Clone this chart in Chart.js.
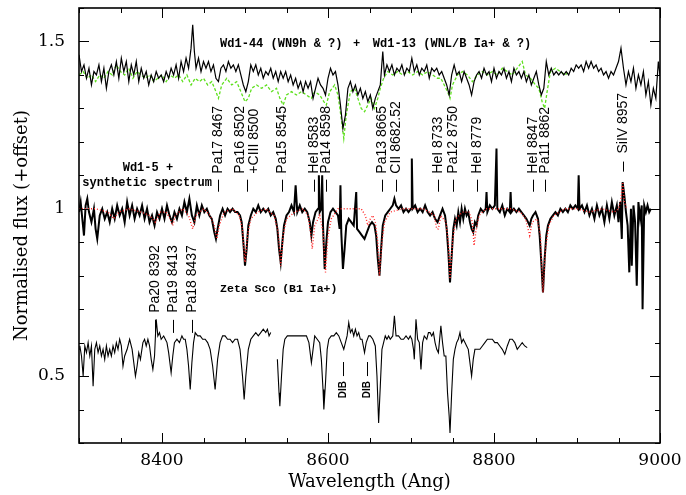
<!DOCTYPE html>
<html lang="en">
<head>
  <meta charset="UTF-8">
  <title>Wd1 spectra</title>
  <script src="https://cdn.jsdelivr.net/npm/chart.js"></script>
  <style>
    body { margin: 0; background: #fff; }
  </style>
</head>
<body>
  <canvas id="spec" width="686" height="495"></canvas>

  <script>
    // Wd1-44 (WN9h) - black, top
    const wd44Wave = [8300,8303,8306,8309,8312,8315,8318,8321,8324,8327,8330,8333,8336,8339,8342,8345,8348,8351,8354,8357,8360,8363,8366,8369,8372,8375,8378,8381,8384,8387,8390,8393,8396,8399,8402,8405,8408,8411,8414,8417,8420,8423,8426,8429,8432,8435,8437,8439,8441,8444,8447,8450,8453,8456,8459,8462,8465,8468,8471,8474,8477,8480,8483,8486,8489,8492,8495,8498,8501,8504,8507,8510,8513,8516,8519,8522,8525,8528,8531,8534,8537,8540,8543,8546,8549,8552,8555,8558,8561,8564,8567,8570,8573,8576,8579,8582,8585,8588,8591,8594,8597,8600,8603,8606,8609,8612,8615,8618,8621,8624,8627,8630,8633,8636,8639,8642,8645,8648,8651,8654,8657,8660,8663,8666,8668,8671,8674,8677,8680,8683,8686,8689,8692,8695,8698,8701,8704,8707,8710,8713,8716,8719,8722,8725,8728,8731,8734,8737,8740,8743,8746,8749,8752,8755,8758,8761,8764,8767,8770,8773,8776,8779,8782,8785,8788,8791,8794,8797,8800,8803,8806,8809,8812,8815,8818,8821,8824,8827,8830,8833,8836,8839,8842,8845,8848,8851,8854,8857,8860,8863,8866,8869,8872,8875,8878,8881,8884,8887,8890,8893,8896,8899,8902,8905,8908,8911,8914,8917,8920,8923,8926,8929,8932,8935,8938,8941,8944,8947,8950,8953,8956,8959,8962,8965,8968,8971,8974,8977,8980,8983,8986,8989,8992,8995,8998,9000];
    const wd44Flux = [1.46,1.41,1.43,1.39,1.42,1.37,1.41,1.40,1.43,1.38,1.42,1.36,1.41,1.43,1.40,1.44,1.39,1.45,1.41,1.44,1.38,1.43,1.40,1.44,1.38,1.42,1.39,1.41,1.37,1.40,1.38,1.41,1.39,1.40,1.38,1.41,1.39,1.42,1.40,1.43,1.39,1.44,1.41,1.45,1.42,1.48,1.55,1.47,1.42,1.45,1.41,1.44,1.42,1.44,1.41,1.43,1.39,1.38,1.42,1.43,1.41,1.44,1.42,1.43,1.41,1.43,1.40,1.37,1.35,1.38,1.43,1.41,1.43,1.40,1.42,1.39,1.41,1.40,1.42,1.39,1.41,1.38,1.41,1.39,1.41,1.38,1.40,1.37,1.39,1.36,1.38,1.35,1.38,1.36,1.38,1.33,1.36,1.39,1.37,1.36,1.34,1.39,1.42,1.40,1.41,1.37,1.31,1.24,1.28,1.36,1.38,1.35,1.37,1.34,1.36,1.33,1.35,1.32,1.34,1.30,1.33,1.35,1.37,1.47,1.40,1.43,1.41,1.43,1.40,1.42,1.41,1.43,1.40,1.42,1.41,1.45,1.41,1.43,1.40,1.42,1.41,1.43,1.39,1.42,1.41,1.42,1.40,1.41,1.39,1.37,1.34,1.40,1.43,1.40,1.41,1.38,1.41,1.39,1.37,1.34,1.38,1.40,1.41,1.39,1.42,1.40,1.41,1.38,1.42,1.39,1.41,1.40,1.42,1.39,1.41,1.38,1.42,1.40,1.41,1.39,1.41,1.38,1.40,1.37,1.39,1.41,1.37,1.34,1.36,1.44,1.40,1.42,1.40,1.41,1.40,1.41,1.40,1.41,1.40,1.42,1.41,1.43,1.42,1.43,1.41,1.44,1.42,1.44,1.42,1.43,1.41,1.42,1.40,1.41,1.39,1.41,1.40,1.42,1.44,1.48,1.42,1.37,1.41,1.38,1.42,1.36,1.40,1.37,1.41,1.34,1.38,1.31,1.36,1.33,1.44,1.40];

    // Wd1-13 (WNL/B Ia+) - green, top
    const wd13Wave = [8300,8305,8310,8315,8320,8325,8330,8335,8340,8345,8350,8355,8360,8365,8370,8375,8380,8385,8390,8395,8400,8405,8410,8415,8420,8425,8430,8435,8440,8445,8450,8455,8460,8465,8468,8472,8478,8484,8490,8495,8500,8504,8508,8514,8520,8526,8532,8538,8542,8546,8550,8556,8562,8568,8574,8580,8584,8590,8595,8598,8602,8608,8612,8616,8619,8622,8627,8632,8636,8640,8644,8648,8652,8656,8660,8663,8667,8672,8678,8684,8690,8696,8702,8708,8714,8720,8726,8732,8736,8740,8744,8747,8750,8756,8762,8768,8774,8780,8786,8792,8798,8804,8810,8816,8822,8828,8834,8838,8844,8850,8854,8858,8861,8864,8868,8874,8880,8886,8890];
    const wd13Flux = [1.40,1.41,1.39,1.40,1.38,1.40,1.39,1.41,1.40,1.43,1.41,1.40,1.42,1.39,1.41,1.40,1.39,1.40,1.38,1.39,1.40,1.38,1.40,1.39,1.40,1.38,1.40,1.37,1.39,1.38,1.39,1.37,1.38,1.35,1.33,1.37,1.39,1.37,1.38,1.35,1.32,1.33,1.36,1.37,1.36,1.37,1.35,1.36,1.33,1.31,1.34,1.35,1.34,1.35,1.34,1.33,1.35,1.34,1.32,1.31,1.35,1.37,1.34,1.27,1.21,1.28,1.35,1.36,1.33,1.30,1.29,1.31,1.33,1.30,1.33,1.36,1.39,1.41,1.40,1.41,1.40,1.41,1.40,1.41,1.40,1.41,1.40,1.39,1.39,1.37,1.35,1.33,1.37,1.40,1.41,1.40,1.38,1.40,1.41,1.40,1.41,1.40,1.42,1.41,1.40,1.42,1.44,1.40,1.39,1.37,1.36,1.32,1.30,1.35,1.41,1.42,1.41,1.40,1.41];

    // Wd1-5 - black, middle
    const wd5Wave = [8300,8302,8304,8306,8308,8310,8312,8315,8318,8320,8322,8325,8328,8331,8334,8337,8340,8343,8346,8349,8352,8355,8358,8361,8364,8367,8370,8373,8376,8379,8382,8385,8388,8391,8394,8397,8400,8403,8406,8409,8412,8415,8418,8421,8424,8427,8430,8433,8436,8439,8442,8445,8448,8451,8454,8457,8460,8463,8465,8467,8470,8473,8476,8479,8482,8485,8488,8491,8494,8496,8498,8500,8502,8504,8507,8510,8513,8516,8519,8522,8525,8528,8531,8534,8537,8539,8541,8543,8545,8547,8550,8553,8556,8559,8561,8563,8566,8569,8572,8575,8578,8580,8582,8585,8588,8589,8590,8592,8593,8594,8596,8598,8600,8603,8606,8609,8612,8614,8615,8616,8618,8620,8622,8625,8628,8631,8634,8635,8638,8641,8644,8647,8650,8653,8656,8658,8660,8662,8664,8666,8669,8672,8675,8678,8680,8682,8685,8688,8691,8694,8697,8700,8701,8702,8705,8708,8711,8714,8717,8720,8723,8726,8729,8732,8735,8738,8741,8743,8745,8747,8749,8751,8753,8755,8757,8759,8761,8763,8765,8767,8769,8771,8773,8775,8777,8779,8781,8784,8787,8790,8791,8792,8795,8798,8801,8803,8804,8807,8810,8813,8816,8819,8820,8821,8824,8827,8830,8833,8836,8839,8841,8843,8845,8847,8850,8853,8855,8857,8859,8861,8863,8865,8868,8871,8874,8877,8880,8883,8886,8889,8892,8895,8898,8901,8902,8903,8906,8909,8912,8915,8918,8921,8924,8927,8930,8933,8936,8939,8942,8945,8948,8950,8952,8954,8955,8957,8959,8961,8963,8965,8966,8968,8970,8972,8974,8976,8978,8979,8981,8983,8985,8987,8989];
    const wd5Flux = [0.99,1.02,0.97,0.92,1.01,1.03,0.99,0.96,1.00,0.94,0.91,0.98,1.00,0.97,0.99,0.96,1.00,0.97,1.01,0.98,1.00,0.96,1.02,0.98,1.01,0.97,1.00,0.98,1.01,0.97,1.00,0.96,0.98,0.95,0.99,0.97,1.00,0.97,1.01,0.98,0.96,0.99,0.97,1.00,0.98,1.02,0.99,1.03,0.98,0.96,1.01,0.98,1.01,0.99,1.00,0.98,0.97,0.93,0.91,0.94,0.98,1.00,0.98,1.00,0.99,1.00,0.99,0.99,0.98,0.96,0.90,0.83,0.88,0.95,0.98,1.00,0.99,1.01,0.99,1.00,0.99,1.00,0.98,0.99,0.97,0.94,0.88,0.84,0.90,0.95,0.98,0.99,1.01,0.99,1.07,0.99,1.01,0.99,1.00,0.99,0.96,0.92,0.96,0.99,1.00,1.10,0.99,1.00,1.10,0.95,0.82,0.90,0.96,0.99,1.00,0.99,0.98,0.94,1.07,0.93,0.82,0.88,0.95,0.97,0.96,0.95,1.05,0.94,0.93,0.92,0.91,0.93,0.95,0.96,0.95,0.92,0.85,0.80,0.88,0.95,0.98,0.99,1.00,1.01,1.03,1.01,1.00,1.01,0.99,1.00,0.99,1.00,1.15,1.00,1.01,0.99,1.00,0.99,1.01,0.99,0.98,0.99,0.97,0.96,0.98,1.00,0.98,0.94,0.87,0.78,0.86,0.94,0.97,0.95,0.99,0.96,1.00,0.97,1.00,0.98,0.99,0.96,0.94,0.93,0.96,0.95,0.98,1.00,0.99,1.00,1.05,0.99,1.01,1.00,1.01,1.18,1.00,0.99,1.01,0.98,1.00,0.99,1.05,0.99,1.00,0.99,1.00,0.99,0.98,0.97,0.96,0.95,0.97,0.98,0.99,0.97,0.92,0.84,0.75,0.85,0.92,0.95,0.97,0.98,0.99,0.98,1.00,0.99,1.00,0.99,1.01,1.00,1.01,1.00,1.10,1.00,1.01,0.99,1.01,0.98,1.00,0.97,1.01,0.98,1.00,0.96,1.01,0.97,1.02,0.98,1.01,0.96,1.02,0.91,1.08,1.04,0.99,0.95,0.81,1.00,0.83,1.01,0.96,0.77,1.02,0.97,1.01,0.70,1.01,0.99,1.01,0.99,1.00];

    // synthetic spectrum - red dotted, middle
    const synthWave = [8300,8320,8335,8342,8348,8360,8375,8385,8392,8398,8405,8410,8413,8416,8425,8432,8437,8441,8450,8458,8463,8466,8469,8475,8485,8493,8497,8500,8503,8507,8515,8525,8535,8540,8543,8546,8550,8560,8570,8576,8579,8581,8584,8590,8594,8597,8600,8604,8612,8625,8640,8645,8648,8651,8654,8657,8660,8662,8665,8668,8675,8690,8705,8715,8722,8728,8731,8733,8736,8742,8745,8747,8750,8754,8762,8770,8774,8776,8778,8782,8790,8805,8820,8832,8838,8841,8843,8846,8852,8856,8859,8862,8866,8872,8885,8900,8915,8930,8945,8950,8953,8955,8957,8960];
    const synthFlux = [1.00,1.00,0.99,0.97,0.99,1.00,0.99,0.98,0.96,0.99,0.99,0.97,0.95,0.98,1.00,0.98,0.94,0.98,1.00,0.98,0.95,0.91,0.95,0.99,1.00,0.98,0.94,0.84,0.92,0.97,0.99,1.00,0.98,0.93,0.83,0.92,0.97,0.99,1.00,0.98,0.93,0.88,0.95,0.98,0.93,0.81,0.92,0.97,1.00,1.00,1.00,0.98,0.95,0.97,0.98,0.96,0.90,0.80,0.90,0.96,0.99,1.00,1.00,1.00,0.99,0.98,0.94,0.94,0.98,0.96,0.90,0.79,0.90,0.97,0.99,0.99,0.96,0.89,0.93,0.98,1.00,1.00,1.00,0.99,0.97,0.94,0.92,0.96,0.97,0.92,0.75,0.88,0.95,0.98,1.00,1.00,0.99,1.00,0.99,1.00,1.03,1.08,1.02,1.00];

    // Zeta Sco (B1 Ia+) - bottom, two pieces with a gap
    const zetaWaveA = [8300,8301,8303,8305,8307,8309,8311,8313,8315,8317,8319,8321,8323,8325,8327,8329,8331,8333,8335,8337,8339,8341,8343,8345,8347,8349,8351,8353,8355,8358,8361,8364,8366,8368,8370,8372,8374,8377,8379,8381,8383,8385,8387,8389,8391,8393,8395,8397,8399,8402,8404,8406,8408,8411,8413,8415,8418,8421,8424,8426,8428,8430,8432,8434,8436,8438,8440,8443,8446,8449,8452,8455,8458,8461,8464,8467,8470,8473,8476,8479,8482,8485,8488,8491,8494,8497,8499,8501,8504,8507,8510,8513,8516,8519,8522,8525,8527,8529,8531];
    const zetaFluxA = [0.58,0.59,0.56,0.50,0.59,0.57,0.60,0.56,0.59,0.47,0.58,0.60,0.57,0.59,0.56,0.58,0.55,0.59,0.56,0.58,0.56,0.59,0.57,0.60,0.58,0.61,0.59,0.53,0.56,0.58,0.61,0.58,0.54,0.50,0.53,0.57,0.55,0.60,0.61,0.59,0.61,0.59,0.55,0.52,0.56,0.67,0.62,0.63,0.61,0.62,0.61,0.60,0.57,0.51,0.56,0.60,0.61,0.60,0.62,0.61,0.61,0.58,0.53,0.46,0.54,0.60,0.63,0.62,0.62,0.61,0.61,0.60,0.58,0.53,0.46,0.55,0.60,0.62,0.62,0.61,0.61,0.60,0.61,0.61,0.58,0.50,0.43,0.50,0.58,0.61,0.62,0.63,0.62,0.63,0.64,0.63,0.64,0.62,0.63];
    const zetaWaveB = [8539,8541,8542,8544,8546,8548,8551,8555,8560,8565,8570,8574,8577,8580,8582,8584,8587,8590,8592,8594,8595,8597,8599,8601,8604,8607,8610,8613,8616,8619,8621,8623,8625,8627,8629,8631,8633,8635,8637,8639,8641,8644,8646,8649,8651,8654,8657,8659,8661,8663,8665,8667,8669,8671,8673,8675,8678,8680,8682,8685,8688,8691,8694,8697,8699,8701,8703,8704,8706,8708,8710,8712,8714,8716,8719,8721,8723,8725,8727,8729,8731,8733,8736,8738,8740,8742,8744,8746,8747,8749,8751,8753,8755,8757,8759,8761,8763,8765,8767,8769,8771,8773,8775,8777,8780,8783,8786,8789,8792,8795,8798,8801,8804,8807,8810,8813,8816,8819,8822,8825,8828,8831,8834,8837,8840];
    const zetaFluxB = [0.55,0.45,0.41,0.50,0.58,0.61,0.62,0.62,0.62,0.62,0.62,0.62,0.60,0.54,0.58,0.62,0.61,0.60,0.55,0.46,0.40,0.48,0.58,0.61,0.62,0.62,0.63,0.62,0.60,0.58,0.60,0.62,0.66,0.63,0.64,0.62,0.64,0.62,0.63,0.61,0.61,0.57,0.60,0.62,0.62,0.61,0.59,0.50,0.36,0.47,0.58,0.60,0.62,0.61,0.62,0.61,0.62,0.68,0.62,0.62,0.61,0.61,0.62,0.61,0.62,0.61,0.58,0.55,0.67,0.61,0.60,0.52,0.60,0.62,0.61,0.63,0.63,0.62,0.63,0.60,0.58,0.57,0.65,0.60,0.56,0.56,0.45,0.38,0.33,0.45,0.55,0.58,0.60,0.61,0.63,0.60,0.61,0.60,0.59,0.58,0.54,0.50,0.55,0.58,0.58,0.58,0.59,0.60,0.61,0.61,0.61,0.60,0.60,0.59,0.58,0.565,0.59,0.61,0.61,0.60,0.58,0.59,0.60,0.59,0.585];

    // line identifications: [text lines, rest wavelength]
    const upperIds = [
      [['Pa17 8467'], 8467],
      [['Pa16 8502', '+CIII 8500'], 8502],
      [['Pa15 8545'], 8545],
      [['HeI 8583'], 8583],
      [['Pa14 8598'], 8597],
      [['Pa13 8665'], 8665],
      [['CII 8682.52'], 8682.5],
      [['HeI 8733'], 8733],
      [['Pa12 8750'], 8750],
      [['HeI 8779'], 8779],
      [['HeI 8847'], 8847],
      [['Pa11 8862'], 8862]
    ];
    const siivId = ['SiIV 8957', 8956];
    const lowerIds = [['Pa20 8392', 8392], ['Pa19 8413', 8413], ['Pa18 8437', 8436]];
    const dibIds = [['DIB', 8618], ['DIB', 8647]];

    function pts(wave, flux) {
      return wave.map((w, i) => ({ x: w, y: flux[i] }));
    }

    // box with inward ticks, like the original plot
    const frameTicks = {
      id: 'frameTicks',
      afterDatasetsDraw(chart) {
        const { ctx, chartArea: a, scales: { x, y } } = chart;
        ctx.save();
        ctx.strokeStyle = '#000';
        ctx.lineWidth = 1;
        ctx.beginPath();
        for (let v = 8300; v <= 9000; v += 50) {
          const px = Math.round(x.getPixelForValue(v)) + 0.5;
          const len = v % 200 === 0 ? 10 : 5;
          ctx.moveTo(px, a.bottom); ctx.lineTo(px, a.bottom - len);
          ctx.moveTo(px, a.top); ctx.lineTo(px, a.top + len);
        }
        for (let i = 3; i <= 16; i++) {
          const py = Math.round(y.getPixelForValue(i / 10)) + 0.5;
          const len = i % 5 === 0 ? 10 : 5;
          ctx.moveTo(a.left, py); ctx.lineTo(a.left + len, py);
          ctx.moveTo(a.right, py); ctx.lineTo(a.right - len, py);
        }
        ctx.stroke();
        ctx.lineWidth = 1.6;
        ctx.strokeRect(a.left, a.top, a.right - a.left, a.bottom - a.top);
        ctx.restore();
      }
    };

    function vtext(ctx, s, px, py) {
      ctx.save();
      ctx.translate(px, py);
      ctx.rotate(-Math.PI / 2);
      ctx.fillText(s, 0, 0);
      ctx.restore();
    }

    const labels = {
      id: 'labels',
      afterDatasetsDraw(chart) {
        const { ctx, scales: { x, y } } = chart;
        ctx.save();
        ctx.fillStyle = '#000';
        ctx.strokeStyle = '#000';
        ctx.lineWidth = 1;
        ctx.textAlign = 'left';
        ctx.textBaseline = 'middle';

        ctx.font = 'bold 12px "Liberation Mono"';
        ctx.fillText('Wd1-44 (WN9h & ?)', x.getPixelForValue(8470), y.getPixelForValue(1.491));
        ctx.fillText('+', x.getPixelForValue(8630), y.getPixelForValue(1.491));
        ctx.fillText('Wd1-13 (WNL/B Ia+ & ?)', x.getPixelForValue(8654), y.getPixelForValue(1.491));
        ctx.textAlign = 'center';
        ctx.fillText('Wd1-5 +', x.getPixelForValue(8383), y.getPixelForValue(1.123));
        ctx.fillText('synthetic spectrum', x.getPixelForValue(8382), y.getPixelForValue(1.078));
        ctx.textAlign = 'left';
        ctx.font = 'bold 11.5px "Liberation Mono"';
        ctx.fillText('Zeta Sco (B1 Ia+)', x.getPixelForValue(8470), y.getPixelForValue(0.760));

        ctx.font = '14px "Liberation Sans"';
        const tickTop = y.getPixelForValue(1.087), tickBot = y.getPixelForValue(1.051);
        const textBase = y.getPixelForValue(1.105);
        upperIds.forEach(([lines, w]) => {
          const px = Math.round(x.getPixelForValue(w)) + 0.5;
          ctx.beginPath(); ctx.moveTo(px, tickTop); ctx.lineTo(px, tickBot); ctx.stroke();
          lines.forEach((s, k) => {
            const off = (k - (lines.length - 1) / 2) * 14;
            vtext(ctx, s, px + off, textBase);
          });
        });

        const sp = Math.round(x.getPixelForValue(siivId[1])) + 0.5;
        ctx.beginPath();
        ctx.moveTo(sp, y.getPixelForValue(1.141)); ctx.lineTo(sp, y.getPixelForValue(1.111));
        ctx.stroke();
        vtext(ctx, siivId[0], sp, y.getPixelForValue(1.165));

        lowerIds.forEach(([s, w]) => {
          const px = Math.round(x.getPixelForValue(w)) + 0.5;
          ctx.beginPath();
          ctx.moveTo(px, y.getPixelForValue(0.668)); ctx.lineTo(px, y.getPixelForValue(0.629));
          ctx.stroke();
          vtext(ctx, s, px, y.getPixelForValue(0.689));
        });

        ctx.font = 'bold 10px "Liberation Sans"';
        dibIds.forEach(([s, w]) => {
          const px = Math.round(x.getPixelForValue(w)) + 0.5;
          ctx.beginPath();
          ctx.moveTo(px, y.getPixelForValue(0.542)); ctx.lineTo(px, y.getPixelForValue(0.500));
          ctx.stroke();
          vtext(ctx, s, px, y.getPixelForValue(0.434));
        });
        ctx.restore();
      }
    };

    const ctx = document.getElementById('spec').getContext('2d');
    new Chart(ctx, {
      type: 'line',
      data: {
        datasets: [
          { data: pts(wd44Wave, wd44Flux), borderColor: '#000', borderWidth: 1.2 },
          { data: pts(wd13Wave, wd13Flux), borderColor: '#5ee01e', borderWidth: 1.3, borderDash: [3, 2] },
          { data: pts(synthWave, synthFlux), borderColor: '#ff2a2a', borderWidth: 1.4, borderDash: [1, 2] },
          { data: pts(wd5Wave, wd5Flux), borderColor: '#000', borderWidth: 2 },
          { data: pts(zetaWaveA, zetaFluxA), borderColor: '#000', borderWidth: 1.1 },
          { data: pts(zetaWaveB, zetaFluxB), borderColor: '#000', borderWidth: 1.1 }
        ]
      },
      options: {
        responsive: false,
        animation: false,
        events: [],
        elements: { point: { radius: 0 }, line: { tension: 0 } },
        layout: { padding: { left: 0, right: 26, top: 8, bottom: 0 } },
        plugins: { legend: { display: false }, tooltip: { enabled: false } },
        scales: {
          x: {
            type: 'linear', min: 8300, max: 9000,
            grid: { display: false, drawTicks: false },
            border: { display: false },
            ticks: {
              stepSize: 200, includeBounds: false, padding: 7, color: '#000',
              font: { family: 'DejaVu Serif', size: 17 },
              callback: v => String(v), maxRotation: 0
            },
            title: {
              display: true, text: 'Wavelength (Ang)', color: '#000',
              font: { family: 'DejaVu Serif', size: 18 }, padding: { top: 0, bottom: 2 }
            },
            afterFit: s => { s.height = 52; s.paddingLeft = 0; s.paddingRight = 0; }
          },
          y: {
            min: 0.3, max: 1.6,
            grid: { display: false, drawTicks: false },
            border: { display: false },
            ticks: {
              stepSize: 0.5, includeBounds: false, padding: 14, color: '#000',
              font: { family: 'DejaVu Serif', size: 17 },
              callback: v => String(+v.toFixed(1))
            },
            title: {
              display: true, text: 'Normalised flux (+offset)', color: '#000',
              font: { family: 'DejaVu Serif', size: 18 }, padding: { top: 12, bottom: 0 }
            },
            afterFit: s => { s.width = 79; s.paddingTop = 0; s.paddingBottom = 0; }
          }
        }
      },
      plugins: [frameTicks, labels]
    });
  </script>
</body>
</html>
